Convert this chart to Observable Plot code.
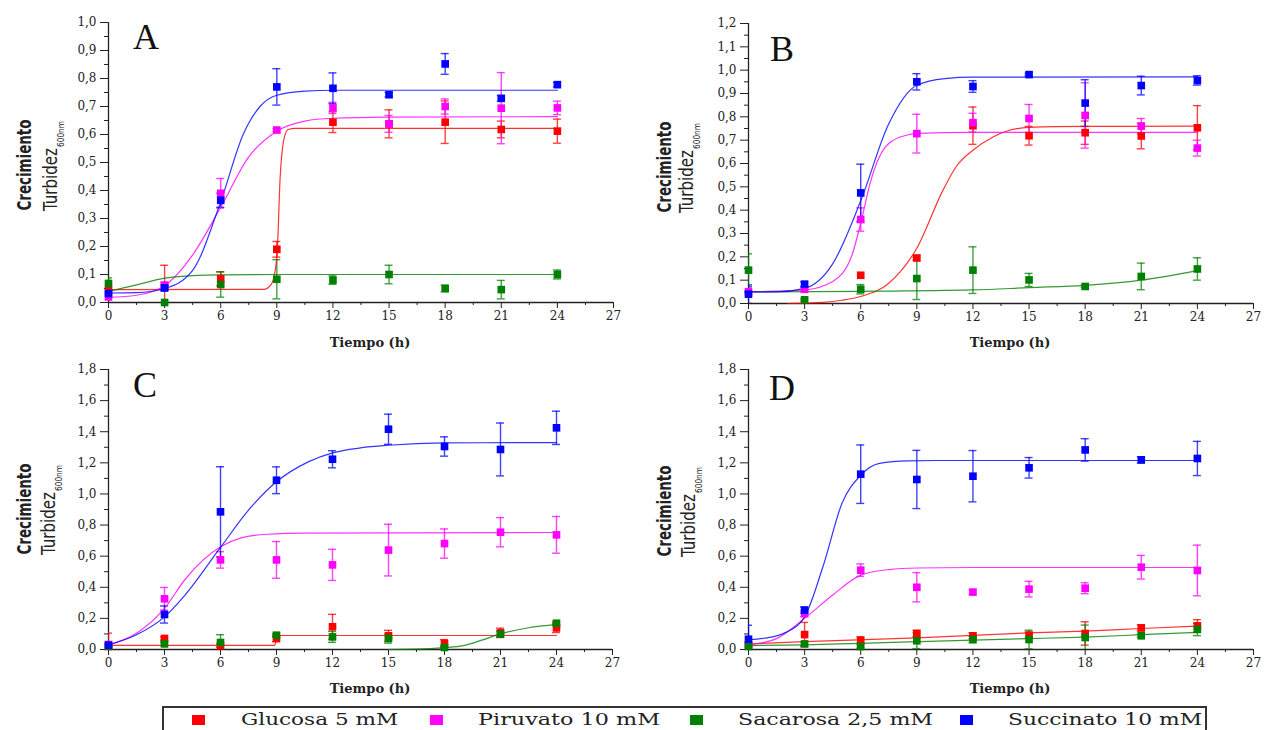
<!DOCTYPE html>
<html>
<head>
<meta charset="utf-8">
<script src="https://cdn.jsdelivr.net/npm/d3@7"></script>
<script src="https://cdn.jsdelivr.net/npm/@observablehq/plot@0.6"></script>
<style>
  html, body { margin: 0; padding: 0; background: #fff; }
  #wrap { position: relative; width: 1279px; height: 730px; overflow: hidden; background: #fff; }
  .panel { position: absolute; }
  #overlay { position: absolute; left: 0; top: 0; pointer-events: none; }
</style>
</head>
<body>
<div id="wrap"></div>
<script>
// ---------- data ----------
const times = [0, 3, 6, 9, 12, 15, 18, 21, 24];
const seriesNames = ["Glucosa 5 mM", "Piruvato 10 mM", "Sacarosa 2,5 mM", "Succinato 10 mM"];
const seriesColors = ["#ff0000", "#ff00ff", "#008000", "#0000ff"];

const xTicks = [0, 3, 6, 9, 12, 15, 18, 21, 24, 27];
const xTickLabels = ["0", "3", "6", "9", "12", "15", "18", "21", "24", "27"];
const xMinorTicks = [1.5, 4.5, 7.5, 10.5, 13.5, 16.5, 19.5, 22.5, 25.5];

const yTicksA = [0, 0.1, 0.2, 0.3, 0.4, 0.5, 0.6, 0.7, 0.8, 0.9, 1.0];
const yLabelsA = ["0,0", "0,1", "0,2", "0,3", "0,4", "0,5", "0,6", "0,7", "0,8", "0,9", "1,0"];
const yMinorA = [0.05, 0.15, 0.25, 0.35, 0.45, 0.55, 0.65, 0.75, 0.85, 0.95];
const yTicksB = [0, 0.1, 0.2, 0.3, 0.4, 0.5, 0.6, 0.7, 0.8, 0.9, 1.0, 1.1, 1.2];
const yLabelsB = ["0,0", "0,1", "0,2", "0,3", "0,4", "0,5", "0,6", "0,7", "0,8", "0,9", "1,0", "1,1", "1,2"];
const yMinorB = [0.05, 0.15, 0.25, 0.35, 0.45, 0.55, 0.65, 0.75, 0.85, 0.95, 1.05, 1.15];
const yTicksCD = [0, 0.2, 0.4, 0.6, 0.8, 1.0, 1.2, 1.4, 1.6, 1.8];
const yLabelsCD = ["0,0", "0,2", "0,4", "0,6", "0,8", "1,0", "1,2", "1,4", "1,6", "1,8"];
const yMinorCD = [0.1, 0.3, 0.5, 0.7, 0.9, 1.1, 1.3, 1.5, 1.7];

// Panel A — Pseudomonas sp. cepa 34
const A_glu = [0.044, 0.055, 0.085, 0.19, 0.644, 0.638, 0.644, 0.618, 0.612];
const A_glu_sd = [0.01, 0.078, 0.025, 0.028, 0.037, 0.05, 0.076, 0.03, 0.043];
const A_pir = [0.02, 0.062, 0.39, 0.616, 0.695, 0.638, 0.70, 0.694, 0.695];
const A_pir_sd = [0.01, 0.01, 0.053, 0.005, 0.02, 0.03, 0.027, 0.127, 0.024];
const A_sac = [0.068, 0.0, 0.064, 0.083, 0.08, 0.10, 0.05, 0.046, 0.10];
const A_sac_sd = [0.02, 0.0, 0.045, 0.07, 0.015, 0.033, 0.012, 0.033, 0.016];
const A_suc = [0.032, 0.052, 0.365, 0.77, 0.765, 0.742, 0.852, 0.729, 0.778];
const A_suc_sd = [0.01, 0.01, 0.025, 0.065, 0.055, 0.008, 0.037, 0.01, 0.008];
const fitA_glu = [[0,0.046],[8.3,0.047],[8.7,0.065],[9.0,0.16],[9.18,0.45],[9.4,0.59],[9.6,0.618],[10,0.622],[24,0.622]];
const fitA_pir = [[0,0.018],[1.5,0.026],[3,0.06],[4.5,0.17],[6,0.34],[7.5,0.52],[9,0.612],[10.5,0.648],[12,0.658],[15,0.662],[24,0.664]];
const fitA_sac = [[0,0.04],[1.5,0.063],[3,0.087],[4.5,0.096],[6,0.099],[9,0.1],[24,0.1]];
const fitA_suc = [[0,0.034],[1.5,0.035],[3,0.05],[4.5,0.115],[6,0.36],[7.2,0.6],[8.1,0.7],[9,0.74],[10.5,0.755],[12,0.758],[24,0.758]];

// Panel B — Pseudomonas sp. cepa 36B
const B_glu = [null, null, 0.121, 0.195, 0.762, 0.719, 0.732, 0.718, 0.753];
const B_glu_sd = [null, null, 0, 0.01, 0.08, 0.04, 0.05, 0.055, 0.095];
const B_pir = [0.05, 0.061, 0.36, 0.728, 0.775, 0.793, 0.806, 0.76, 0.666];
const B_pir_sd = [0.02, 0.01, 0.05, 0.083, 0.04, 0.06, 0.14, 0.033, 0.034];
const B_sac = [0.143, 0.016, 0.061, 0.107, 0.143, 0.101, 0.073, 0.116, 0.148];
const B_sac_sd = [0.07, 0.005, 0.02, 0.09, 0.1, 0.028, 0.005, 0.057, 0.048];
const B_suc = [0.04, 0.083, 0.474, 0.95, 0.93, 0.981, 0.859, 0.934, 0.956];
const B_suc_sd = [0.04, 0.01, 0.123, 0.035, 0.025, 0.005, 0.1, 0.04, 0.02];
const fitB_glu = [[2.1,0],[4,0.005],[5,0.014],[6,0.03],[7.5,0.087],[9,0.237],[10.4,0.486],[11.1,0.586],[12,0.657],[13.1,0.715],[15,0.755],[18,0.759],[24,0.76]];
const fitB_pir = [[0,0.05],[3,0.058],[4.5,0.094],[5.5,0.2],[6,0.344],[6.5,0.515],[7,0.629],[7.5,0.686],[8.5,0.722],[9,0.729],[12,0.733],[24,0.733]];
const fitB_sac = [[0,0.05],[6,0.052],[12,0.058],[15,0.068],[18,0.078],[21,0.1],[24,0.141]];
const fitB_suc = [[0,0.05],[1.5,0.05],[3,0.065],[4.5,0.17],[6,0.44],[7.5,0.77],[9,0.935],[10.5,0.964],[12,0.97],[24,0.971]];

// Panel C — Acinetobacter sp. cepa 53
const C_glu = [0.02, 0.071, 0.024, 0.071, 0.146, 0.088, 0.039, 0.107, 0.139];
const C_glu_sd = [0.085, 0.01, 0.01, 0.02, 0.08, 0.035, 0.025, 0.03, 0.03];
const C_pir = [0.032, 0.326, 0.576, 0.576, 0.544, 0.639, 0.681, 0.754, 0.737];
const C_pir_sd = [0.01, 0.073, 0.053, 0.118, 0.1, 0.166, 0.094, 0.094, 0.118];
const C_sac = [0.02, 0.036, 0.045, 0.092, 0.081, 0.071, 0.013, 0.099, 0.169];
const C_sac_sd = [0.01, 0.01, 0.05, 0.01, 0.035, 0.03, 0.01, 0.02, 0.01];
const C_suc = [0.028, 0.225, 0.885, 1.088, 1.223, 1.416, 1.305, 1.286, 1.425];
const C_suc_sd = [0.01, 0.055, 0.29, 0.086, 0.055, 0.097, 0.062, 0.17, 0.107];
const fitC_glu = [[0,0.026],[8.9,0.026],[9.05,0.09],[24,0.09]];
const fitC_pir = [[0,0.03],[1.5,0.105],[3,0.264],[4.1,0.45],[6,0.66],[7.1,0.718],[8.5,0.741],[10.5,0.748],[24,0.752]];
const fitC_sac = [[15,0],[16.5,0.002],[18,0.012],[19,0.025],[20,0.06],[21,0.1],[22.5,0.14],[24,0.16]];
const fitC_suc = [[0,0.03],[1.5,0.095],[3,0.21],[4.1,0.35],[6,0.656],[7.5,0.896],[9,1.078],[10.7,1.206],[12,1.264],[13.5,1.296],[15,1.313],[18,1.328],[24,1.33]];

// Panel D — Acinetobacter sp. cepa 64
const D_glu = [0.03, 0.096, 0.06, 0.103, 0.088, 0.092, 0.103, 0.139, 0.152];
const D_glu_sd = [0.01, 0.078, 0.02, 0.02, 0.02, 0.02, 0.075, 0.02, 0.04];
const D_pir = [0.03, 0.231, 0.51, 0.40, 0.369, 0.388, 0.394, 0.529, 0.508];
const D_pir_sd = [0.01, 0.02, 0.04, 0.094, 0.015, 0.05, 0.035, 0.076, 0.163];
const D_sac = [0.019, 0.036, 0.019, 0.056, 0.064, 0.064, 0.077, 0.088, 0.129];
const D_sac_sd = [0.01, 0.01, 0.01, 0.05, 0.02, 0.06, 0.08, 0.01, 0.04];
const D_suc = [0.066, 0.253, 1.127, 1.093, 1.114, 1.168, 1.283, 1.219, 1.228];
const D_suc_sd = [0.09, 0.02, 0.188, 0.187, 0.165, 0.066, 0.072, 0.02, 0.11];
const fitD_glu = [[0,0.036],[3,0.05],[9,0.075],[15,0.107],[18,0.118],[21,0.135],[24,0.15]];
const fitD_pir = [[0,0.03],[1.5,0.07],[3,0.2],[4.5,0.35],[6,0.478],[7.5,0.514],[9,0.524],[12,0.527],[24,0.527]];
const fitD_sac = [[0,0.025],[3,0.03],[6,0.04],[9,0.05],[12,0.06],[15,0.07],[18,0.08],[21,0.095],[24,0.11]];
const fitD_suc = [[0,0.065],[1,0.075],[2,0.11],[3,0.21],[4,0.54],[5,0.94],[6,1.12],[7,1.196],[8.5,1.213],[10,1.215],[24,1.215]];

const panelTitles = [
  ["A", "Pseudomonas", " sp. cepa 34"],
  ["B", "Pseudomonas", " sp. cepa 36B"],
  ["C", "Acinetobacter", " sp. cepa 53"],
  ["D", "Acinetobacter", " sp. cepa 64"]
];
const xLabel = "Tiempo (h)";
const yLabel1 = "Crecimiento";
const yLabel2 = "Turbidez";
const yLabelSub = "600nm";

// ---------- drawing ----------
const wrap = document.getElementById("wrap");
const AXIS = "#222";

function makePanel(cfg) {
  const marks = [
    Plot.axisX(xTicks, {tickSize: 6, tickPadding: 3, tickFormat: d => xTickLabels[xTicks.indexOf(d)], label: null, stroke: AXIS, fill: "#222", fontSize: 12}),
    Plot.axisX(xMinorTicks, {tickSize: 3, text: null, label: null, stroke: AXIS}),
    Plot.axisY(cfg.yTicks, {tickSize: 8, tickPadding: 4, tickFormat: d => cfg.yLabels[cfg.yTicks.indexOf(d)], label: null, stroke: AXIS, fill: "#222", fontSize: 12}),
    Plot.axisY(cfg.yMinor, {tickSize: 4, text: null, label: null, stroke: AXIS}),
    Plot.ruleX([0], {stroke: AXIS, strokeWidth: 1.3}),
    Plot.ruleY([0], {stroke: AXIS, strokeWidth: 1.3})
  ];
  const pts = cfg.series.map(s => times.map((t, i) => ({t, v: s[0][i], sd: s[1][i]})).filter(d => d.v != null));
  // error bars
  pts.forEach((p, k) => {
    const col = seriesColors[k];
    const e = p.filter(d => d.sd > 0);
    marks.push(Plot.ruleX(e, {x: "t", y1: d => d.v - d.sd, y2: d => d.v + d.sd, stroke: col, strokeWidth: 1.4, strokeOpacity: 0.75, clip: true}));
    marks.push(Plot.ruleY(e, {y: d => d.v + d.sd, x1: "t", x2: "t", insetLeft: -4, insetRight: -4, stroke: col, strokeWidth: 1.4, strokeOpacity: 0.75, clip: true}));
    marks.push(Plot.ruleY(e, {y: d => d.v - d.sd, x1: "t", x2: "t", insetLeft: -4, insetRight: -4, stroke: col, strokeWidth: 1.4, strokeOpacity: 0.75, clip: true}));
  });
  // fitted curves
  cfg.fits.forEach((f, k) => {
    marks.push(Plot.line(f, {x: d => d[0], y: d => d[1], stroke: seriesColors[k], strokeWidth: 1.2, strokeOpacity: 0.8, curve: "monotone-x"}));
  });
  // markers
  pts.forEach((p, k) => {
    marks.push(Plot.dot(p, {x: "t", y: "v", symbol: "square", r: 4.3, fill: seriesColors[k], stroke: "none"}));
  });
  const svg = Plot.plot({
    width: cfg.w, height: cfg.h,
    marginLeft: cfg.ml, marginRight: cfg.mr, marginTop: cfg.mt, marginBottom: cfg.mb,
    x: {domain: [0, 27]},
    y: {domain: cfg.yDomain},
    style: {fontFamily: "'DejaVu Serif', serif", fontSize: "12px", background: "transparent", overflow: "visible", color: "#222"},
    marks
  });
  const div = document.createElement("div");
  div.className = "panel";
  div.style.left = cfg.left + "px";
  div.style.top = cfg.top + "px";
  div.appendChild(svg);
  wrap.appendChild(div);
}

makePanel({left: 0, top: 0, w: 640, h: 330, ml: 108, mr: 27, mt: 22, mb: 28, yDomain: [0, 1.0],
  yTicks: yTicksA, yLabels: yLabelsA, yMinor: yMinorA,
  series: [[A_glu, A_glu_sd], [A_pir, A_pir_sd], [A_sac, A_sac_sd], [A_suc, A_suc_sd]],
  fits: [fitA_glu, fitA_pir, fitA_sac, fitA_suc]});
makePanel({left: 640, top: 0, w: 639, h: 330, ml: 108, mr: 26, mt: 23, mb: 27, yDomain: [0, 1.2],
  yTicks: yTicksB, yLabels: yLabelsB, yMinor: yMinorB,
  series: [[B_glu, B_glu_sd], [B_pir, B_pir_sd], [B_sac, B_sac_sd], [B_suc, B_suc_sd]],
  fits: [fitB_glu, fitB_pir, fitB_sac, fitB_suc]});
makePanel({left: 0, top: 340, w: 640, h: 330, ml: 108, mr: 28, mt: 29, mb: 21, yDomain: [0, 1.8],
  yTicks: yTicksCD, yLabels: yLabelsCD, yMinor: yMinorCD,
  series: [[C_glu, C_glu_sd], [C_pir, C_pir_sd], [C_sac, C_sac_sd], [C_suc, C_suc_sd]],
  fits: [fitC_glu, fitC_pir, fitC_sac, fitC_suc]});
makePanel({left: 640, top: 340, w: 639, h: 330, ml: 108, mr: 26, mt: 29, mb: 21, yDomain: [0, 1.8],
  yTicks: yTicksCD, yLabels: yLabelsCD, yMinor: yMinorCD,
  series: [[D_glu, D_glu_sd], [D_pir, D_pir_sd], [D_sac, D_sac_sd], [D_suc, D_suc_sd]],
  fits: [fitD_glu, fitD_pir, fitD_sac, fitD_suc]});

// ---------- text overlay (titles, axis labels, legend) ----------
const NS = "http://www.w3.org/2000/svg";
const ov = document.createElementNS(NS, "svg");
ov.setAttribute("id", "overlay");
ov.setAttribute("width", 1279);
ov.setAttribute("height", 730);
wrap.appendChild(ov);
function el(tag, attrs, parent) {
  const e = document.createElementNS(NS, tag);
  for (const k in attrs) e.setAttribute(k, attrs[k]);
  (parent || ov).appendChild(e);
  return e;
}
function txt(str, attrs, parent) { const t = el("text", attrs, parent); t.textContent = str; return t; }

const SERIF = "'DejaVu Serif', 'Liberation Serif', serif";
const TIMES = "'Liberation Serif', 'DejaVu Serif', serif";
const NARROW = "'Liberation Sans Narrow', 'DejaVu Sans Condensed', 'Liberation Sans', sans-serif";

const panelPos = [
  {letter: [133, 49], title: [325, 36, 277], xl: [370, 347], ylc: [31, 165], ylt: [57, 211]},
  {letter: [770, 61], title: [950, 36, 294], xl: [1010, 347], ylc: [671, 167], ylt: [693, 213]},
  {letter: [133, 397], title: [322, 381, 280], xl: [370, 693], ylc: [31, 509], ylt: [55, 555]},
  {letter: [769, 400], title: [963, 381, 281], xl: [1010, 693], ylc: [671, 511], ylt: [695, 557]}
];
panelPos.forEach((p, i) => {
  const [L, ital, rest] = panelTitles[i];
  txt(L, {x: p.letter[0], y: p.letter[1], "font-family": TIMES, "font-size": 36, fill: "#111"});
  const t = el("text", {x: p.title[0], y: p.title[1], "font-family": SERIF, "font-size": 19, fill: "#222",
    textLength: p.title[2], lengthAdjust: "spacingAndGlyphs"});
  txt(ital, {"font-style": "italic"}, t);
  txt(rest, {}, t);
  txt(xLabel, {x: p.xl[0], y: p.xl[1], "text-anchor": "middle", "font-family": SERIF, "font-weight": "bold", "font-size": 13, fill: "#222"});
  txt(yLabel1, {transform: `translate(${p.ylc[0]},${p.ylc[1]}) rotate(-90)`, "text-anchor": "middle",
    "font-family": NARROW, "font-weight": "bold", "font-size": 20, fill: "#222", textLength: 91, lengthAdjust: "spacingAndGlyphs"});
  txt(yLabel2, {transform: `translate(${p.ylt[0]},${p.ylt[1]}) rotate(-90)`,
    "font-family": NARROW, "font-size": 19, fill: "#222", textLength: 63, lengthAdjust: "spacingAndGlyphs"});
  txt(yLabelSub, {transform: `translate(${p.ylt[0] + 7},${p.ylt[1] - 64}) rotate(-90)`,
    "font-family": NARROW, "font-size": 9, fill: "#222", textLength: 26, lengthAdjust: "spacingAndGlyphs"});
});

// legend
el("rect", {x: 163, y: 707, width: 1043, height: 30, fill: "none", stroke: "#333", "stroke-width": 2});
const legendSq = [192, 430, 690, 960];
const legendTx = [[241, 157], [478, 182], [738, 195], [1008, 194]];
seriesNames.forEach((n, k) => {
  el("rect", {x: legendSq[k], y: 715, width: 13, height: 10, fill: seriesColors[k]});
  txt(n, {x: legendTx[k][0], y: 725, "font-family": SERIF, "font-size": 17, fill: "#222",
    textLength: legendTx[k][1], lengthAdjust: "spacingAndGlyphs"});
});
</script>
</body>
</html>
